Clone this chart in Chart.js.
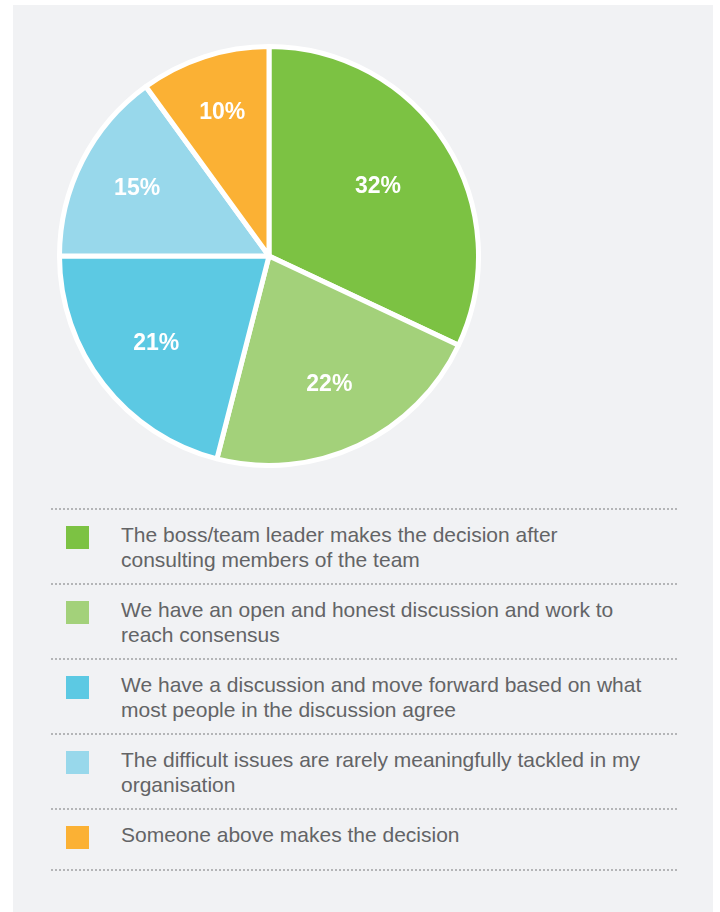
<!DOCTYPE html>
<html>
<head>
<meta charset="utf-8">
<script src="https://cdn.jsdelivr.net/npm/chart.js@4.4.1/dist/chart.umd.min.js"></script>
<style>
  html, body { margin: 0; padding: 0; background: #ffffff; }
  body { width: 720px; height: 912px; position: relative; overflow: hidden; font-family: "Liberation Sans", Arial, sans-serif; }
  .panel { position: absolute; left: 13px; top: 5px; width: 700px; height: 907px; background: #f1f2f4; }
  #pie-wrap { position: absolute; left: 57px; top: 44px; width: 424px; height: 424px; }
  #legend { position: absolute; left: 51px; top: 508px; width: 626px; }
  .sep { height: 2px; background-image: linear-gradient(to right, #b4b5b7 50%, transparent 50%); background-size: 4px 2px; }
  .row { display: flex; align-items: flex-start; padding: 12px 0 11px 0; }
  .swatch { width: 23px; height: 23px; margin: 4px 32px 9px 15px; flex: none; }
  .text { font-size: 21px; line-height: 25px; color: #636466; }
</style>
</head>
<body>
<div class="panel"></div>
<div id="pie-wrap"><canvas id="pie"></canvas></div>
<div id="legend"></div>

<script>
// survey answers, clockwise from 12 o'clock
const answers = [
  ['The boss/team leader makes the decision after', 'consulting members of the team'],
  ['We have an open and honest discussion and work to', 'reach consensus'],
  ['We have a discussion and move forward based on what', 'most people in the discussion agree'],
  ['The difficult issues are rarely meaningfully tackled in my', 'organisation'],
  ['Someone above makes the decision']
];
const shares = [32, 22, 21, 15, 10];
const sliceColors = ['#7cc243', '#a3d17a', '#5cc9e3', '#98d8eb', '#fbb134'];

// white percentage text inside each slice, placed a little outside the sector centroid
const sliceLabels = {
  id: 'sliceLabels',
  afterDatasetsDraw(chart) {
    const ctx = chart.ctx;
    const meta = chart.getDatasetMeta(0);
    ctx.save();
    ctx.fillStyle = '#ffffff';
    ctx.font = 'bold 23px "Liberation Sans", Arial, sans-serif';
    ctx.textAlign = 'center';
    ctx.textBaseline = 'middle';
    meta.data.forEach((arc, i) => {
      const p = arc.getProps(['x', 'y', 'startAngle', 'endAngle', 'outerRadius'], true);
      const half = (p.endAngle - p.startAngle) / 2;
      const mid = p.startAngle + half;
      const r = 1.1 * (2 * p.outerRadius * Math.sin(half)) / (3 * half);
      ctx.fillText(chart.data.datasets[0].data[i] + '%', p.x + Math.cos(mid) * r, p.y + Math.sin(mid) * r);
    });
    ctx.restore();
  }
};

const pieChart = new Chart(document.getElementById('pie'), {
  type: 'pie',
  data: {
    labels: answers,
    datasets: [{
      data: shares,
      backgroundColor: sliceColors,
      borderColor: '#ffffff',
      borderWidth: 5
    }]
  },
  options: {
    responsive: true,
    maintainAspectRatio: false,
    animation: false,
    layout: { padding: 0 },
    plugins: {
      legend: { display: false },
      tooltip: { enabled: false }
    }
  },
  plugins: [sliceLabels]
});

// legend list with dotted separators, built from the chart's own data
const legendBox = document.getElementById('legend');
legendBox.appendChild(Object.assign(document.createElement('div'), { className: 'sep' }));
pieChart.data.labels.forEach((lines, i) => {
  const row = document.createElement('div');
  row.className = 'row';
  const swatch = document.createElement('div');
  swatch.className = 'swatch';
  swatch.style.background = pieChart.data.datasets[0].backgroundColor[i];
  const text = document.createElement('div');
  text.className = 'text';
  text.innerHTML = lines.join('<br>');
  row.appendChild(swatch);
  row.appendChild(text);
  legendBox.appendChild(row);
  legendBox.appendChild(Object.assign(document.createElement('div'), { className: 'sep' }));
});
</script>
</body>
</html>
